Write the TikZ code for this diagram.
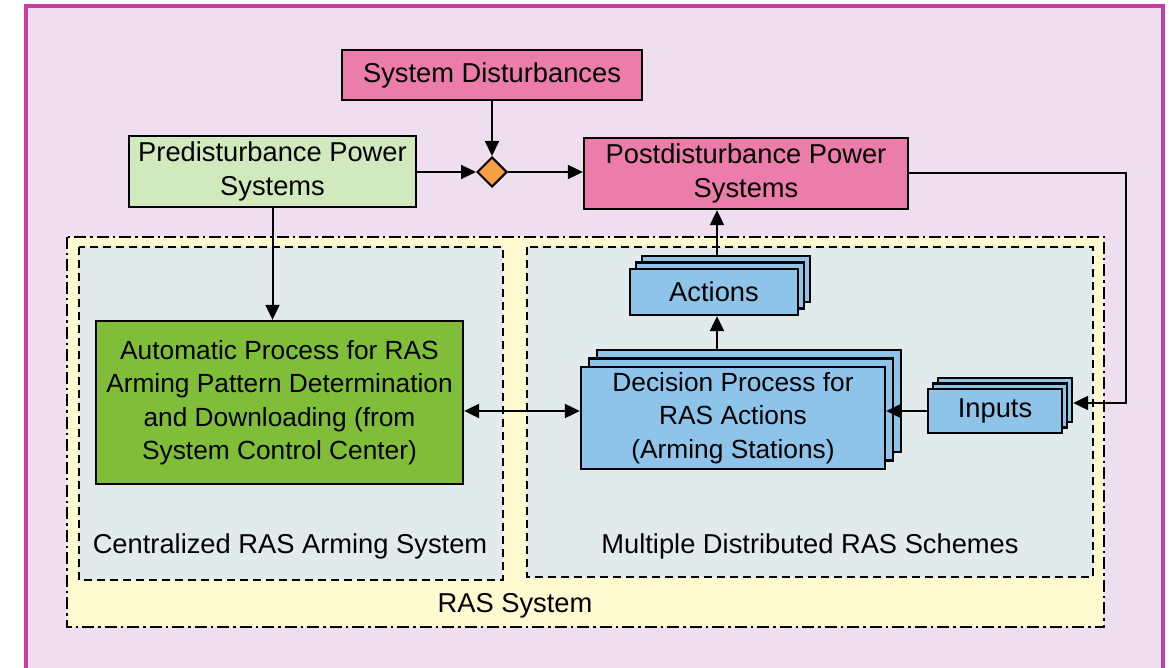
\documentclass[tikz,border=0pt]{standalone}
\usepackage{fontspec}
\setmainfont{Liberation Sans}
\usetikzlibrary{calc,shapes.geometric,shadows,arrows.meta}

\definecolor{framemag}{RGB}{196,62,156}
\definecolor{lavender}{RGB}{238,222,240}
\definecolor{rasyellow}{RGB}{255,250,208}
\definecolor{panelgray}{RGB}{226,235,236}
\definecolor{pinkbox}{RGB}{236,124,170}
\definecolor{greenlight}{RGB}{208,234,190}
\definecolor{greendark}{RGB}{128,190,58}
\definecolor{bluebox}{RGB}{142,196,234}
\definecolor{orangedia}{RGB}{244,160,70}

\tikzset{
  box/.style={draw=black, line width=2.3pt, align=center, inner sep=0pt},
  smalltext/.style={font=\fontsize{26.3}{33.5}\selectfont},
  stackcopy/.style={copy shadow={fill=bluebox, draw=black, line width=2.3pt, #1}},
  arr/.style={line width=2pt, -{Triangle[length=15pt,width=14pt]}},
  biarr/.style={line width=2pt, {Triangle[length=15pt,width=14pt]}-{Triangle[length=15pt,width=14pt]}},
  dashdotline/.style={line width=2pt, dash pattern=on 12pt off 4pt on 2.5pt off 4pt},
  dashline/.style={line width=2pt, dash pattern=on 8pt off 5pt},
  lbl/.style={inner sep=0pt}
}

\begin{document}
\begin{tikzpicture}[x=1pt, y=-1pt, font=\fontsize{27.3}{33.5}\selectfont]
\useasboundingbox (0,0) rectangle (1171,668);
\clip (0,0) rectangle (1171,668);
\fill[white] (0,0) rectangle (1171,668);

% outer frame
\draw[framemag, line width=3.5pt, fill=lavender] (26,6) rectangle (1163,690);

% RAS system and its two sub-systems
\draw[dashdotline, fill=rasyellow] (67,237) rectangle (1104,627);
\draw[dashline, fill=panelgray] (79,247) rectangle (503,580);
\draw[dashline, fill=panelgray] (527,247) rectangle (1093,577);

\node[lbl] (clabel) at (290,546) {Centralized RAS Arming System};
\node[lbl] (mlabel) at (810,546) {Multiple Distributed RAS Schemes};
\node[lbl] (rlabel) at (515,606) {RAS System};

% power system states
\node[box, fill=pinkbox, minimum width=300pt, minimum height=50pt] (sd) at (492,75) {System Disturbances};
\node[box, fill=greenlight, minimum width=287pt, minimum height=71pt] (pre) at (272.5,171.5) {Predisturbance Power\\Systems};
\node[box, fill=pinkbox, minimum width=324pt, minimum height=71pt] (post) at (746,173.5) {Postdisturbance Power\\Systems};
\node[draw=black, line width=2pt, fill=orangedia, diamond, minimum width=30pt, minimum height=30pt, inner sep=0pt] (dia) at (492,172) {};

% RAS blocks
\node[box, smalltext, fill=greendark, minimum width=367pt, minimum height=163pt] (auto) at (279.5,402.5)
  {Automatic Process for RAS\\Arming Pattern Determination\\and Downloading (from\\System Control Center)};
\node[box, smalltext, fill=bluebox, minimum width=304pt, minimum height=102pt,
      stackcopy={shadow xshift=16pt, shadow yshift=17pt},
      stackcopy={shadow xshift=8pt, shadow yshift=8.5pt}] (dec) at (733,418)
  {Decision Process for\\RAS Actions\\(Arming Stations)};
\node[box, fill=bluebox, minimum width=168pt, minimum height=46pt,
      stackcopy={shadow xshift=12pt, shadow yshift=13pt},
      stackcopy={shadow xshift=6pt, shadow yshift=6.5pt}] (act) at (714,292) {Actions};
\node[box, fill=bluebox, minimum width=134pt, minimum height=44pt,
      stackcopy={shadow xshift=10pt, shadow yshift=11pt},
      stackcopy={shadow xshift=5pt, shadow yshift=5.5pt}] (inp) at (995,411) {Inputs};

% reference points on the stacked boxes
\coordinate (acttop) at ($(act.north)+(3,-13)$);
\coordinate (dectop) at ($(dec.north)+(0,-17)$);
\coordinate (inpR) at ($(inp.east)+(10,-8)$);

% connectors
\draw[arr] (sd.south) -- (dia.north);
\draw[arr] (pre.east |- dia.west) -- (dia.west);
\draw[arr] (dia.east) -- (post.west |- dia.east);
\draw[arr] (pre.south) -- (pre.south |- auto.north);
\draw[arr] (acttop) -- (acttop |- post.south);
\draw[arr] (acttop |- dectop) -- (acttop |- act.south);
\draw[arr] (post.east) -- ++(217,0) |- (inpR);
\draw[arr] (inp.west) -- (inp.west -| dec.east);
\draw[biarr] (auto.east |- inp.west) -- (dec.west |- inp.west);
\end{tikzpicture}
\end{document}
